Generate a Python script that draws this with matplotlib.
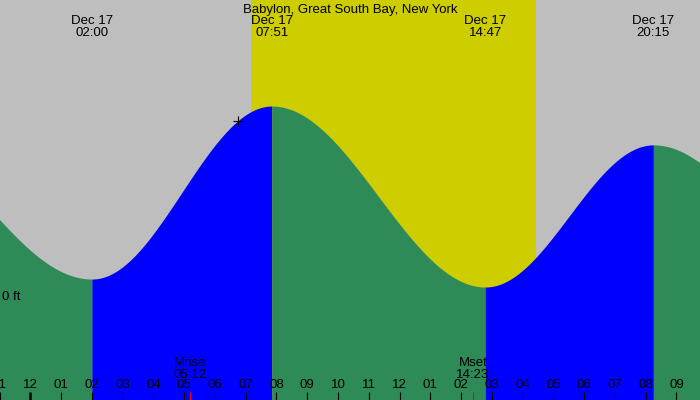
import numpy as np
import matplotlib
matplotlib.use("Agg")
import matplotlib.pyplot as plt

plt.rcParams['font.family'] = ['Liberation Sans', 'DejaVu Sans']

# times are hours since Dec 17 00:00, heights in ft
title = "Babylon, Great South Bay, New York"
ext_t = [-5.0, 2.0, 7.85, 14.783, 20.25, 26.7]
ext_h = [0.80, 0.071, 0.895, 0.033, 0.71, 0.05]
ext_lbl = ["", "02:00", "07:51", "14:47", "20:15", ""]
ext_day = "Dec 17"
sunrise, sunset = 7.17, 16.43
moon_t = [5.2, 14.383]
moon_name = ["Mrise", "Mset"]
moon_lbl = ["05:12", "14:23"]
now_t = 6.75
hours = list(range(-1, 22))
t_min, t_max = -0.985, 21.765
h_min, h_max = -0.505, 1.4

GRAY = "#bebebe"
SUN = "#cdcd00"
RISE = "#0000ff"
FALL = "#2e8b57"


def tide(t):
    t = np.atleast_1d(np.asarray(t, dtype=float))
    out = np.empty_like(t)
    for i in range(len(ext_t) - 1):
        m = (t >= ext_t[i]) & (t <= ext_t[i + 1])
        f = (t[m] - ext_t[i]) / (ext_t[i + 1] - ext_t[i])
        out[m] = ext_h[i] + (ext_h[i + 1] - ext_h[i]) * (1 - np.cos(np.pi * f)) / 2
    return out


fig = plt.figure(figsize=(7, 4), dpi=100)
ax = fig.add_axes([0, 0, 1, 1])
ax.set_xlim(t_min, t_max)
ax.set_ylim(h_min, h_max)
ax.axis('off')

ax.axvspan(t_min, t_max, color=GRAY, lw=0)
ax.axvspan(sunrise, sunset, color=SUN, lw=0)

# tide fills, blue for rising, green for falling
for i in range(len(ext_t) - 1):
    a, b = max(ext_t[i], t_min - 0.1), min(ext_t[i + 1], t_max + 0.1)
    if a >= b:
        continue
    tt = np.linspace(a, b, 400)
    col = RISE if ext_h[i + 1] > ext_h[i] else FALL
    ax.fill_between(tt, tide(tt), h_min, color=col, lw=0)

ax.plot(now_t, tide(now_t)[0], marker='+', color='black', ms=7, mew=0.8)

xt = ax.get_xaxis_transform()
fs = 9.5


def ytxt(px):
    # pixel row from the top -> axes fraction, nudged for glyph centering
    return 1 - (px + 1.5) / 400


ax.text(0.5, ytxt(8.5), title, transform=ax.transAxes, ha='center', va='center', fontsize=fs)
for t, lbl in zip(ext_t, ext_lbl):
    if lbl and t_min < t < t_max:
        ax.text(t, ytxt(20), ext_day, transform=xt, ha='center', va='center', fontsize=fs)
        ax.text(t, ytxt(31.5), lbl, transform=xt, ha='center', va='center', fontsize=fs)

ax.text(0.003, ytxt(295), "0 ft", transform=ax.transAxes, ha='left', va='center', fontsize=fs)

# hour ticks
for h in hours:
    lab = "%02d" % (h % 12 if h % 12 else 12)
    ax.text(h, ytxt(384), lab, transform=xt, ha='center', va='center', fontsize=fs)
    ax.plot([h, h], [0, 8 / 400], transform=xt, color='black',
            lw=1.8 if h % 24 == 0 else 0.8, solid_capstyle='butt')

for t, name, lbl in zip(moon_t, moon_name, moon_lbl):
    ax.plot([t, t], [0, 8 / 400], transform=xt, color='red', lw=0.8, solid_capstyle='butt')
    ax.text(t, ytxt(361.5), name, transform=xt, ha='center', va='center', fontsize=fs)
    ax.text(t, ytxt(373), lbl, transform=xt, ha='center', va='center', fontsize=fs)

fig.savefig("out.png", dpi=100)
